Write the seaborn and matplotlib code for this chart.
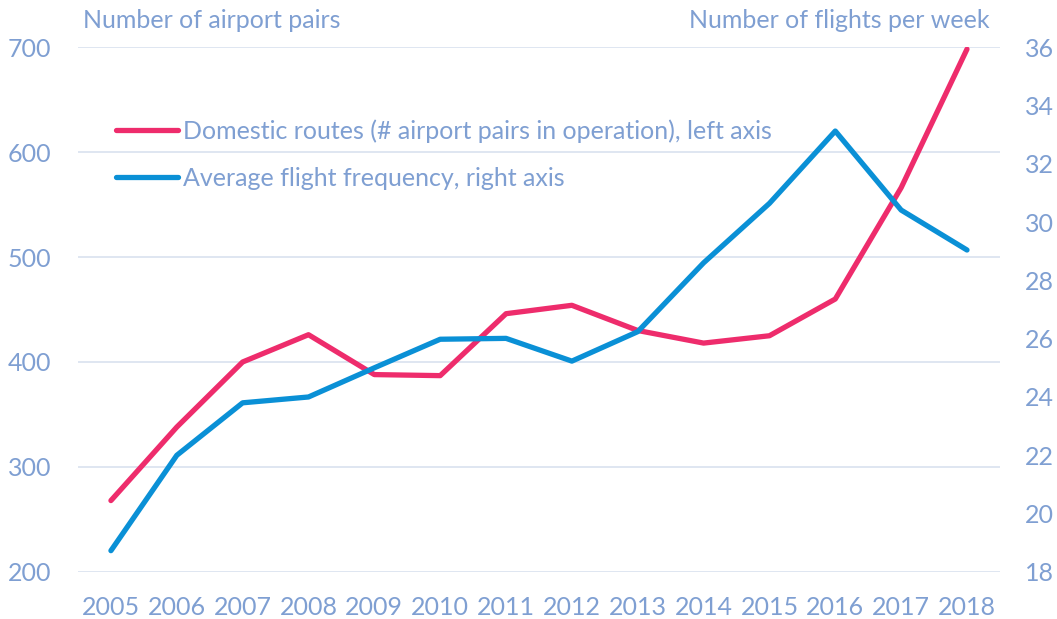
import numpy as np
import pandas as pd
import seaborn as sns
import matplotlib.pyplot as plt

# values
years = [2005, 2006, 2007, 2008, 2009, 2010, 2011, 2012, 2013, 2014, 2015, 2016, 2017, 2018]
routes = [268, 338, 400, 426, 388, 387, 446, 454, 430, 418, 425, 460, 566, 698]
freq = [18.73, 22.0, 23.8, 24.0, 25.0, 25.98, 26.01, 25.23, 26.24, 28.6, 30.64, 33.12, 30.41, 29.04]

left_ticks = [200, 300, 400, 500, 600, 700]
right_ticks = [18, 20, 22, 24, 26, 28, 30, 32, 34, 36]

lab_routes = 'Domestic routes (# airport pairs in operation), left axis'
lab_freq = 'Average flight frequency, right axis'

red = '#EE2C6C'
blue = '#0A90D6'
txt = '#7F9FD2'
grid = '#DCE4F0'
fs = 18

sns.set_theme(style='white')
plt.rcParams['font.family'] = ['Lato', 'DejaVu Sans']

df = pd.DataFrame({'year': years, 'routes': routes, 'freq': freq})

fig = plt.figure(figsize=(10.57, 6.19), dpi=100)
ax = fig.add_axes([0.0738, 0.076, 0.8722, 0.848])
ax2 = ax.twinx()

for y in left_ticks:
    ax.axhline(y, color=grid, lw=1.3, zorder=0)

sns.lineplot(data=df, x='year', y='routes', ax=ax, color=red, lw=3.8,
             solid_capstyle='round', label=lab_routes, legend=False)
sns.lineplot(data=df, x='year', y='freq', ax=ax2, color=blue, lw=3.8,
             solid_capstyle='round', label=lab_freq, legend=False)

ax.set_xlim(2004.5, 2018.5)
ax.set_ylim(200, 700)
ax2.set_ylim(18, 36)
ax.set_xticks(years)
ax.set_yticks(left_ticks)
ax2.set_yticks(right_ticks)
ax.set_xlabel('')
ax.set_ylabel('')
ax2.set_ylabel('')

for a in (ax, ax2):
    for s in a.spines.values():
        s.set_visible(False)
ax.tick_params(axis='x', length=0, pad=17, labelsize=fs, labelcolor=txt)
ax.tick_params(axis='y', length=0, pad=19, labelsize=fs, labelcolor=txt)
ax2.tick_params(axis='y', length=0, pad=18, labelsize=fs, labelcolor=txt)

fig.text(83 / 1057, 1 - 21 / 619, 'Number of airport pairs', color=txt,
         fontsize=fs, ha='left', va='center')
fig.text(990 / 1057, 1 - 21 / 619, 'Number of flights per week', color=txt,
         fontsize=fs, ha='right', va='center')

h1, l1 = ax.get_legend_handles_labels()
h2, l2 = ax2.get_legend_handles_labels()
leg = fig.legend(h1 + h2, l1 + l2, loc='upper left',
                 bbox_to_anchor=(93 / 1057, 1 - 97 / 619), frameon=False,
                 fontsize=fs, handlelength=2.5, handletextpad=0.2,
                 labelspacing=0.95, labelcolor=txt)

fig.savefig('out.png', dpi=100)
